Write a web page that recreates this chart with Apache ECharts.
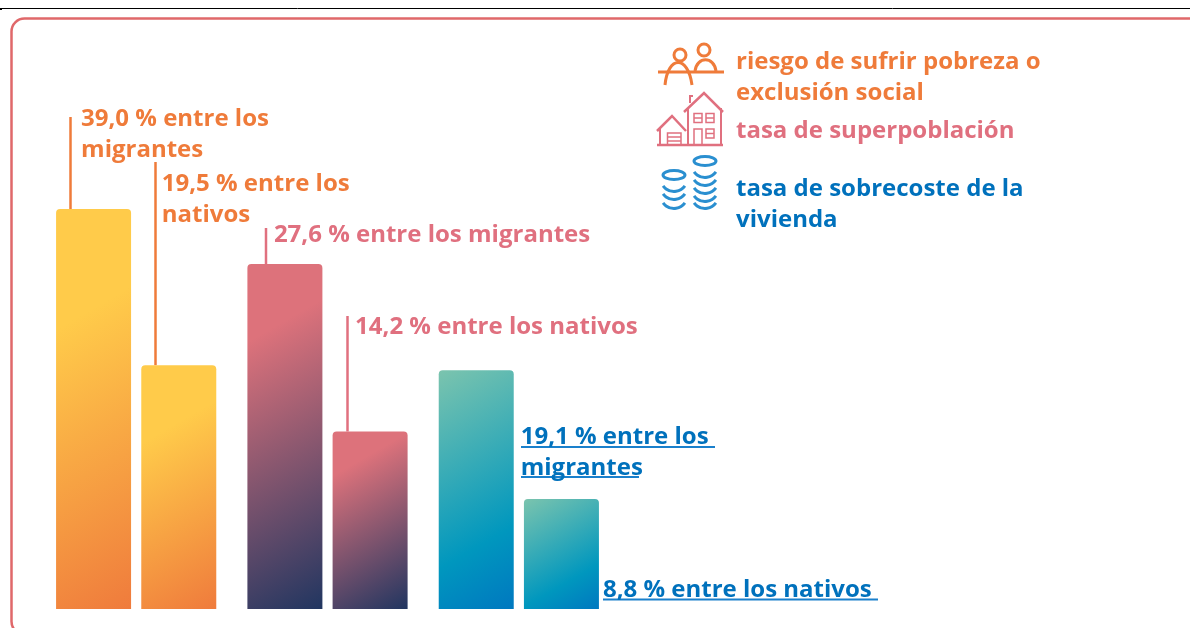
<!DOCTYPE html>
<html>
<head>
<meta charset="utf-8">
<script src="https://cdn.jsdelivr.net/npm/echarts@6/dist/echarts.min.js"></script>
<style>
  html, body {margin: 0; padding: 0; background: #fff;}
  #chart {width: 1190px; height: 628px;}
</style>
</head>
<body>
<div id="chart"></div>
<script>
const categories = ['riesgo de sufrir pobreza o\nexclusión social', 'tasa de superpoblación', 'tasa de sobrecoste de la\nvivienda'];
// bar heights as drawn: the first bar is cut short in the picture (about 32), its label still says 39,0 %
const migrantes = [32, 27.6, 19.1];
const nativos = [19.5, 14.2, 8.8];
const labelsMigrantes = ['39,0 % entre los\nmigrantes', '27,6 % entre los migrantes', '19,1 % entre los\nmigrantes'];
const labelsNativos = ['19,5 % entre los\nnativos', '14,2 % entre los nativos', '8,8 % entre los nativos'];

const orange = '#ef7b3a', pink = '#e0707f', blue = '#0071bc';
const textColors = [orange, pink, blue];
const fontFamily = 'Open Sans';
const fontSize = 24;
const barWidth = 75;
const scale = 12.5;  // px per unit, grid height / axis max

// colour stops for each category, top left to bottom right
const stops = [
  [[0, '#ffcb4a'], [0.27, '#ffcb4a'], [1, '#ef7a3c']],
  [[0, '#dd727b'], [0.2, '#dd727b'], [1, '#1f3560']],
  [[0, '#7bc4ae'], [0.7, '#0097be'], [1, '#0077c0']]
];

// isolines rise about 30 degrees to the right, whatever the height of the bar
function barColor(i, value) {
  let h = value * scale;
  let len = barWidth * 0.5 + h * 0.87;
  return new echarts.graphic.LinearGradient(0, 0, 0.5 * len / barWidth, 0.87 * len / h, stops[i].map(function(s) {
    return {offset: s[0], color: s[1]};
  }));
}

function makeData(values, labels, offsets) {
  return values.map(function(v, i) {
    return {
      value: v,
      itemStyle: {color: barColor(i, v)},
      label: {show: true, formatter: labels[i], position: offsets[i], color: textColors[i]}
    };
  });
}

const labelStyle = {
  fontFamily: fontFamily, fontSize: fontSize, fontWeight: 'bold',
  lineHeight: 31, align: 'left', verticalAlign: 'top'
};

let chart = echarts.init(document.getElementById('chart'));

chart.setOption({
  animation: false,
  grid: {left: 40.5, top: 109, width: 574, height: 500},
  xAxis: {type: 'category', data: categories, show: false},
  yAxis: {type: 'value', min: 0, max: 40, show: false},
  series: [
    {
      name: 'migrantes', type: 'bar', barWidth: barWidth, barGap: '13.6%',
      itemStyle: {borderRadius: [4, 4, 0, 0]},
      label: labelStyle,
      data: makeData(migrantes, labelsMigrantes, [[25, -105], [26.5, -44], [82, 51.5]])
    },
    {
      name: 'nativos', type: 'bar', barWidth: barWidth,
      itemStyle: {borderRadius: [4, 4, 0, 0]},
      label: labelStyle,
      data: makeData(nativos, labelsNativos, [[20.5, -197], [22.5, -119.5], [79, 76]])
    }
  ]
});

function yOf(value) {
  return chart.convertToPixel({yAxisIndex: 0}, value);
}

function stroke(color, w) {
  return {stroke: color, lineWidth: w, fill: 'none'};
}

function line(x1, y1, x2, y2, color, w) {
  return {type: 'line', shape: {x1: x1, y1: y1, x2: x2, y2: y2}, style: stroke(color, w || 2)};
}

function poly(points, color, w) {
  return {type: 'polyline', shape: {points: points}, style: stroke(color, w)};
}

function box(x, y, width, height, color, w) {
  return {type: 'rect', shape: {x: x, y: y, width: width, height: height}, style: stroke(color, w)};
}

// leaders go from the label down to the top of the bar
let leaders = [
  line(70.5, 117, 70.5, yOf(migrantes[0]), orange, 2.5),
  line(155.5, 162, 155.5, yOf(nativos[0]), orange, 2.5),
  line(266, 228, 266, yOf(migrantes[1]), pink, 2.5),
  line(347.5, 316, 347.5, yOf(nativos[1]), pink, 2.5)
];

const underlineBlue = '#1a80cc';
let underlines = [
  line(521, 447, 715, 447, underlineBlue),
  line(521, 477, 639, 477, underlineBlue),
  line(603, 599.5, 878, 599.5, underlineBlue)
];

function legendText(x, y, text, color) {
  return {
    type: 'text', x: x, y: y,
    style: {text: text, fill: color, font: 'bold ' + fontSize + 'px "' + fontFamily + '"', lineHeight: 31, verticalAlign: 'top'}
  };
}

let peopleIcon = [
  {type: 'circle', shape: {cx: 680, cy: 55, r: 6}, style: stroke(orange, 3)},
  {type: 'circle', shape: {cx: 704, cy: 50, r: 6}, style: stroke(orange, 3)},
  line(658, 72, 724, 72, orange, 3),
  {type: 'bezierCurve', shape: {x1: 665, y1: 85, x2: 692, y2: 85, cpx1: 668, cpy1: 55, cpx2: 688, cpy2: 55}, style: stroke(orange, 3)},
  {type: 'bezierCurve', shape: {x1: 695, y1: 71, x2: 716, y2: 71, cpx1: 697, cpy1: 56, cpx2: 714, cpy2: 56}, style: stroke(orange, 3)}
];

let houseIcon = [
  line(657, 145, 723, 145, pink, 2.5),
  poly([[684, 112], [704, 93], [723, 112]], pink, 2.5),
  poly([[690, 103], [690, 96], [693, 96]], pink, 2),
  line(688, 145, 688, 108, pink, 2),
  line(721, 145, 721, 108, pink, 2),
  poly([[657, 131], [672, 116], [686, 131]], pink, 2.5),
  line(660, 145, 660, 128, pink, 2),
  box(667.5, 133, 13.5, 12, pink, 1.5),
  line(667.5, 137, 681, 137, pink, 1.5),
  line(667.5, 141, 681, 141, pink, 1.5),
  box(694, 113.5, 8, 9, pink, 1.5),
  line(694, 118, 702, 118, pink, 1.5),
  box(706, 113.5, 8, 9, pink, 1.5),
  line(706, 118, 714, 118, pink, 1.5),
  poly([[694, 145], [694, 129], [702, 129], [702, 145]], pink, 1.5),
  box(706, 129, 8, 9, pink, 1.5),
  line(706, 133.5, 714, 133.5, pink, 1.5)
];

const coinBlue = '#2a8fd0';
function coinStack(cx, topY, arcs) {
  let parts = [{type: 'ellipse', shape: {cx: cx, cy: topY, rx: 11, ry: 4.5}, style: stroke(coinBlue, 3)}];
  arcs.forEach(function(y) {
    parts.push({type: 'arc', shape: {cx: cx, cy: y - 7, r: 13.5, startAngle: Math.PI * 0.2, endAngle: Math.PI * 0.8}, style: stroke(coinBlue, 3)});
  });
  return parts;
}
let coinIcon = coinStack(705, 161, [171, 179, 187, 195, 202]).concat(coinStack(674, 175, [185, 193, 202]));

chart.setOption({
  graphic: {
    elements: [
      line(0, 8.5, 1190, 8.5, '#000', 1),
      line(0, 9.5, 2, 9.5, '#000', 1),
      {type: 'rect', shape: {x: 11.5, y: 18.5, width: 1300, height: 616, r: 13}, style: stroke('#e0686a', 2.5)},
      legendText(736, 46.5, categories[0], orange),
      legendText(736, 115.5, categories[1], pink),
      legendText(736, 173.5, categories[2], blue)
    ].concat(leaders, underlines, peopleIcon, houseIcon, coinIcon)
  }
});
</script>
</body>
</html>
